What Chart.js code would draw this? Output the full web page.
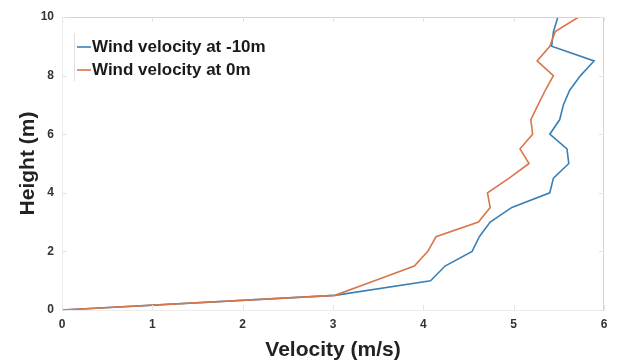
<!DOCTYPE html>
<html>
<head>
<meta charset="utf-8">
<script src="https://cdn.jsdelivr.net/npm/chart.js@4/dist/chart.umd.min.js"></script>
<style>
html,body{margin:0;padding:0;background:#fff;}
#wrap{position:relative;width:618px;height:363px;}
</style>
</head>
<body>
<div id="wrap"><canvas id="c" width="618" height="363"></canvas></div>
<script>
const heights = [0, 0.5, 1, 1.5, 2, 2.5, 3, 3.5, 4, 4.5, 5, 5.5, 6, 6.5, 7, 7.5, 8, 8.5, 9, 9.5, 10];
const velMinus10 = [0, 3.02, 4.08, 4.24, 4.54, 4.62, 4.74, 4.98, 5.40, 5.44, 5.61, 5.59, 5.40, 5.51, 5.55, 5.62, 5.74, 5.89, 5.42, 5.44, 5.49];
const velZero    = [0, 3.02, 3.46, 3.90, 4.05, 4.14, 4.61, 4.74, 4.71, 4.95, 5.17, 5.07, 5.21, 5.19, 5.27, 5.35, 5.44, 5.26, 5.40, 5.46, 5.72];
const seriesLabels = ['Wind velocity at -10m', 'Wind velocity at 0m'];
const xTicks = [0, 1, 2, 3, 4, 5, 6];
const yTicks = [0, 2, 4, 6, 8, 10];

const toPts = v => v.map((x, i) => ({x: x, y: heights[i]}));
const FONT = '"Liberation Sans", Arial, sans-serif';

const boxPlugin = {
  id: 'box',
  afterDatasetsDraw(chart) {
    const {ctx, chartArea: a, scales} = chart;
    ctx.save();
    ctx.strokeStyle = '#d4d4d4';
    ctx.lineWidth = 1;
    ctx.beginPath();
    ctx.moveTo(a.left, a.top + 0.5); ctx.lineTo(a.right, a.top + 0.5);
    ctx.moveTo(a.right - 0.5, a.top); ctx.lineTo(a.right - 0.5, a.bottom);
    ctx.stroke();
    ctx.strokeStyle = '#e4e4e4';
    ctx.beginPath();
    xTicks.forEach(t => {
      const px = Math.round(scales.x.getPixelForValue(t)) + 0.5;
      ctx.moveTo(px, a.top); ctx.lineTo(px, a.top + 5);
      ctx.moveTo(px, a.bottom); ctx.lineTo(px, a.bottom - 5);
    });
    yTicks.forEach(t => {
      const py = Math.round(scales.y.getPixelForValue(t)) + 0.5;
      ctx.moveTo(a.left, py); ctx.lineTo(a.left + 5, py);
      ctx.moveTo(a.right, py); ctx.lineTo(a.right - 5, py);
    });
    ctx.stroke();
    ctx.restore();
  },
  afterDraw(chart) {
    const {ctx, chartArea: a} = chart;
    ctx.save();
    const x0 = a.left + 12, y0 = a.top + 30, lh = 23;
    ctx.strokeStyle = '#e0e0e0';
    ctx.lineWidth = 1;
    ctx.beginPath();
    ctx.moveTo(x0 + 0.5, a.top + 16); ctx.lineTo(x0 + 0.5, a.top + 64);
    ctx.stroke();
    chart.data.datasets.forEach((ds, i) => {
      const y = y0 + i * lh;
      ctx.strokeStyle = ds.borderColor;
      ctx.lineWidth = 1.6;
      ctx.beginPath();
      ctx.moveTo(x0 + 3, y); ctx.lineTo(x0 + 17, y);
      ctx.stroke();
      ctx.fillStyle = '#1a1a1a';
      ctx.font = 'bold 17px ' + FONT;
      ctx.textBaseline = 'middle';
      ctx.textAlign = 'left';
      ctx.fillText(ds.label, x0 + 18, y);
    });
    ctx.restore();
  }
};

new Chart(document.getElementById('c'), {
  type: 'scatter',
  data: {
    datasets: [
      {label: seriesLabels[0], data: toPts(velMinus10), order: 2, showLine: true, borderColor: '#3a80b6', backgroundColor: '#3a80b6', borderWidth: 1.6, pointRadius: 0, tension: 0},
      {label: seriesLabels[1], data: toPts(velZero), order: 1, showLine: true, borderColor: '#d8764a', backgroundColor: '#d8764a', borderWidth: 1.6, pointRadius: 0, tension: 0}
    ]
  },
  options: {
    responsive: false,
    animation: false,
    devicePixelRatio: 1,
    layout: {padding: {left: 16, top: 17, right: 14, bottom: 0}},
    plugins: {legend: {display: false}, tooltip: {enabled: false}},
    scales: {
      x: {
        type: 'linear', min: 0, max: 6,
        afterBuildTicks: s => { s.ticks = xTicks.map(v => ({value: v})); },
        afterFit: s => { s.height = 53; },
        grid: {display: false, drawTicks: false},
        border: {display: true, color: '#ececec'},
        ticks: {padding: 7, color: '#333', font: {family: FONT, size: 12, weight: 'bold'}},
        title: {display: true, text: 'Velocity (m/s)', color: '#222', padding: {top: 1, bottom: 0}, font: {family: FONT, size: 21, weight: 'bold'}}
      },
      y: {
        type: 'linear', min: 0, max: 10,
        afterBuildTicks: s => { s.ticks = yTicks.map(v => ({value: v})); },
        afterFit: s => { s.width = 46; },
        grid: {display: false, drawTicks: false},
        border: {display: true, color: '#ececec'},
        ticks: {padding: 8, color: '#333', font: {family: FONT, size: 12, weight: 'bold'}},
        title: {display: true, text: 'Height (m)', color: '#222', padding: {top: 0, bottom: 2}, font: {family: FONT, size: 21, weight: 'bold'}}
      }
    }
  },
  plugins: [boxPlugin]
});
</script>
</body>
</html>
